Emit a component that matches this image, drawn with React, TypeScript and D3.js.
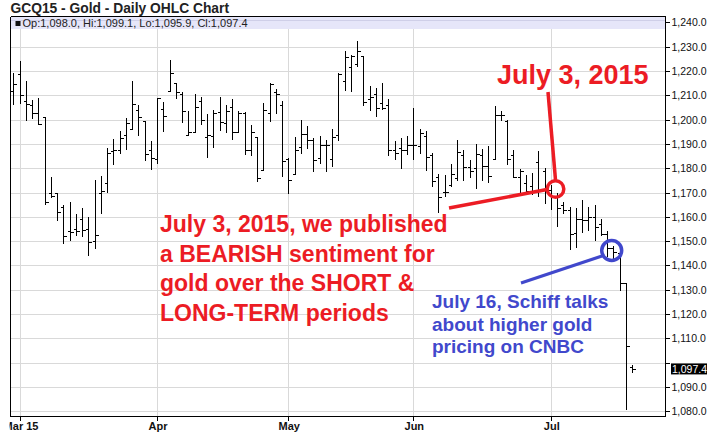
import React, { useEffect } from "react";
import * as d3 from "d3";

const dates = [
  "2015-02-27",
  "2015-03-02","2015-03-03","2015-03-04","2015-03-05","2015-03-06","2015-03-09","2015-03-10","2015-03-11","2015-03-12","2015-03-13",
  "2015-03-16","2015-03-17","2015-03-18","2015-03-19","2015-03-20","2015-03-23","2015-03-24","2015-03-25","2015-03-26","2015-03-27",
  "2015-03-30","2015-03-31",
  "2015-04-01","2015-04-02","2015-04-06","2015-04-07","2015-04-08","2015-04-09","2015-04-10","2015-04-13","2015-04-14","2015-04-15",
  "2015-04-16","2015-04-17","2015-04-20","2015-04-21","2015-04-22","2015-04-23","2015-04-24","2015-04-27","2015-04-28","2015-04-29","2015-04-30",
  "2015-05-01","2015-05-04","2015-05-05","2015-05-06","2015-05-07","2015-05-08","2015-05-11","2015-05-12","2015-05-13","2015-05-14",
  "2015-05-15","2015-05-18","2015-05-19","2015-05-20","2015-05-21","2015-05-22","2015-05-26","2015-05-27","2015-05-28","2015-05-29",
  "2015-06-01","2015-06-02","2015-06-03","2015-06-04","2015-06-05","2015-06-08","2015-06-09","2015-06-10","2015-06-11","2015-06-12",
  "2015-06-15","2015-06-16","2015-06-17","2015-06-18","2015-06-19","2015-06-22","2015-06-23","2015-06-24","2015-06-25","2015-06-26",
  "2015-06-29","2015-06-30",
  "2015-07-01","2015-07-02","2015-07-06","2015-07-07","2015-07-08","2015-07-09","2015-07-10","2015-07-13","2015-07-14","2015-07-15",
  "2015-07-16","2015-07-17","2015-07-20","2015-07-21",
];

const opens = [
  1211.8,
  1218.6,1207.7,1206.0,1202.7,1201.0,1169.7,1169.7,1164.1,1154.1,1154.9,
  1159.0,1154.9,1150.1,1169.7,1173.8,1187.1,1187.6,1193.7,1196.2,1204.0,
  1199.6,1187.5,
  1183.7,1204.4,1211.8,1215.2,1210.4,1193.7,1195.1,1207.7,1193.0,1193.4,
  1203.0,1198.8,1205.2,1194.7,1202.9,1187.5,1193.0,1179.3,1202.6,1211.5,1206.0,
  1183.7,1177.5,1188.9,1194.1,1191.6,1184.1,1189.6,1183.7,1193.7,1216.0,
  1221.8,1222.9,1226.3,1208.4,1210.4,1206.7,1206.0,1187.3,1188.2,1187.5,
  1189.6,1189.2,1193.3,1185.5,1176.3,1170.1,1173.2,1175.8,1185.6,1180.4,
  1179.9,1185.3,1180.8,1183.8,1201.8,1199.6,1185.6,1176.5,1174.0,1172.6,
  1182.5,1178.8,
  1171.0,1168.0,1165.0,1163.0,1153.5,1159.0,1158.8,1160.0,1157.0,1153.0,
  1147.0,1145.0,1132.6,1098.0,
];

const highs = [
  1219.2,
  1224.1,1215.9,1208.1,1208.8,1201.0,1176.2,1170.0,1164.9,1165.9,1161.1,
  1163.8,1160.1,1175.2,1176.8,1188.2,1191.9,1195.2,1200.8,1216.0,1206.0,
  1199.6,1191.0,
  1209.0,1207.4,1224.5,1215.2,1211.5,1203.6,1210.7,1209.5,1202.2,1204.0,
  1209.5,1206.0,1208.5,1203.7,1203.3,1197.8,1193.0,1207.0,1214.9,1212.5,1207.7,
  1184.1,1193.0,1199.9,1197.5,1192.3,1193.4,1191.6,1196.2,1219.0,1228.4,
  1226.6,1232.5,1226.3,1213.8,1213.2,1215.2,1208.5,1191.0,1192.6,1193.3,
  1204.7,1196.2,1195.3,1186.4,1177.5,1177.0,1181.8,1191.8,1187.3,1183.2,
  1190.1,1188.1,1189.0,1205.5,1203.7,1200.0,1187.3,1179.5,1177.4,1178.1,
  1187.0,1179.9,
  1173.0,1170.0,1166.0,1164.0,1163.8,1167.0,1164.0,1165.0,1159.0,1154.0,
  1148.0,1147.0,1132.6,1099.1,
];

const lows = [
  1205.9,
  1206.6,1199.5,1200.4,1197.8,1164.8,1167.9,1158.1,1148.8,1149.9,1152.1,
  1151.5,1143.7,1146.7,1161.1,1169.6,1181.4,1185.9,1187.4,1196.2,1193.2,
  1183.0,1179.3,
  1181.6,1195.1,1211.8,1208.5,1198.5,1193.7,1195.1,1197.8,1184.1,1188.5,
  1195.5,1194.4,1191.6,1194.7,1185.5,1185.1,1174.5,1178.9,1199.2,1202.2,1176.3,
  1169.3,1177.5,1185.8,1187.9,1178.4,1181.6,1178.6,1180.3,1191.2,1211.8,
  1211.5,1221.8,1205.6,1203.7,1201.2,1204.0,1185.1,1183.4,1179.7,1185.5,
  1183.4,1185.8,1178.9,1172.1,1161.5,1168.2,1172.1,1174.7,1174.9,1175.8,
  1171.5,1174.7,1174.0,1183.8,1199.6,1181.5,1176.0,1169.2,1169.8,1168.9,
  1168.1,1165.1,
  1163.0,1156.0,1161.0,1146.4,1147.0,1153.3,1154.0,1150.0,1152.0,1143.5,
  1142.3,1129.5,1080.3,1095.9,
];

const closes = [
  1214.5,
  1210.1,1206.6,1202.7,1198.1,1165.9,1168.5,1161.9,1152.2,1153.6,1154.2,
  1154.5,1149.7,1152.7,1170.7,1186.2,1187.5,1192.6,1198.8,1206.3,1201.1,
  1185.9,1184.1,
  1208.8,1201.5,1219.3,1211.5,1203.6,1195.1,1205.3,1199.7,1193.7,1202.6,
  1199.2,1203.7,1195.1,1202.6,1187.5,1195.1,1175.9,1204.0,1214.7,1210.4,1183.0,
  1175.2,1187.5,1194.1,1191.4,1183.2,1189.6,1189.6,1193.0,1218.8,1225.9,
  1226.3,1228.2,1207.4,1209.2,1204.7,1204.7,1187.5,1186.2,1187.5,1189.6,
  1189.6,1194.4,1184.8,1174.8,1168.1,1170.4,1177.5,1186.6,1180.4,1178.8,
  1186.0,1180.8,1176.7,1201.8,1201.8,1183.6,1176.3,1179.0,1170.5,1170.5,
  1170.5,1171.5,
  1168.0,1163.8,1163.0,1152.9,1159.0,1158.8,1160.0,1156.0,1153.0,1147.0,
  1145.5,1132.6,1107.0,1097.4,
];

const yTicks = [1080, 1090, 1100, 1110, 1120, 1130, 1140, 1150, 1160, 1170, 1180, 1190, 1200, 1210, 1220, 1230, 1240];
const monthTicks = ["2015-03-02", "2015-04-01", "2015-05-01", "2015-06-01", "2015-07-01"];
const monthLabels = ["Mar 15", "Apr", "May", "Jun", "Jul"];

const title = "GCQ15 - Gold - Daily OHLC Chart";
const legendText = "Op:1,098.0, Hi:1,099.1, Lo:1,095.9, Cl:1,097.4";
const lastPrice = 1097.4;
const redNoteTitle = "July 3, 2015";
const redNoteLines = ["July 3, 2015, we published", "a BEARISH sentiment for", "gold over the SHORT &", "LONG-TERM periods"];
const blueNoteLines = ["July 16, Schiff talks", "about higher gold", "pricing on CNBC"];

const W = 717, H = 436;
const plotL = 10.5, plotR = 665.5, plotT = 16.5, plotB = 416.5;

export default function App() {
  useEffect(() => {
    document.body.style.margin = "0";
  }, []);

  const x = d3.scalePoint<string>().domain(dates).range([13.3, 632.05]);
  const y = d3.scaleLinear().domain([1080, 1240]).range([411.2, 22.4]);
  const fmt = d3.format(",.1f");
  const red = "#ec1c24";
  const blue = "#4148cc";
  const font = "'Liberation Sans', Arial, sans-serif";

  const bars = dates.map((d, i) => ({ d, o: opens[i], h: highs[i], l: lows[i], c: closes[i] }));
  // the price box hides the axis label it would collide with
  const shownLabels = yTicks.filter((t) => Math.abs(y(t) - y(lastPrice)) > 9);

  return (
    <svg width={W} height={H} style={{ position: "absolute", left: 0, top: 0, background: "#fff" }} fontFamily={font}>
      <rect x={0} y={0} width={W} height={H} fill="#fff" />
      <text x={10.5} y={12.5} fontSize={13.8} fontWeight="bold" fill="#222">{title}</text>
      <defs>
        <clipPath id="plotclip">
          <rect x={plotL} y={plotT} width={plotR - plotL} height={plotB - plotT} />
        </clipPath>
        <clipPath id="axisclip">
          <rect x={9.5} y={plotB} width={plotR - 9.5} height={20} />
        </clipPath>
      </defs>
      {/* grid */}
      <g stroke="#d9d9d9" strokeWidth={1}>
        {yTicks.map((t) => (
          <line key={t} x1={plotL} x2={plotR} y1={Math.round(y(t)) + 0.5} y2={Math.round(y(t)) + 0.5} />
        ))}
        {monthTicks.map((m) => (
          <line key={m} x1={Math.round(x(m)!) + 0.5} x2={Math.round(x(m)!) + 0.5} y1={plotT} y2={plotB} />
        ))}
      </g>
      {/* legend band */}
      <rect x={plotL + 0.5} y={plotT + 0.5} width={plotR - plotL - 1} height={12} fill="#e6e6f9" />
      <line x1={plotL} x2={plotR} y1={Math.round(y(1240)) - 1.5} y2={Math.round(y(1240)) - 1.5} stroke="#cfcfe8" />
      <rect x={15.5} y={21} width={5} height={5} fill="#111" />
      <text x={22.5} y={26.5} fontSize={11} fill="#222">{legendText}</text>
      {/* bars */}
      <g stroke="#000" strokeWidth={1.1} clipPath="url(#plotclip)" shapeRendering="crispEdges">
        {bars.map((b) => {
          const cx = Math.round(x(b.d)!) + 0.5;
          return (
            <g key={b.d}>
              <line x1={cx} x2={cx} y1={y(b.h)} y2={y(b.l)} />
              <line x1={cx - 3} x2={cx} y1={Math.round(y(b.o)) + 0.5} y2={Math.round(y(b.o)) + 0.5} />
              <line x1={cx} x2={cx + 3} y1={Math.round(y(b.c)) + 0.5} y2={Math.round(y(b.c)) + 0.5} />
            </g>
          );
        })}
      </g>
      {/* frame / axes */}
      <g stroke="#000" strokeWidth={1} fill="none" shapeRendering="crispEdges">
        <line x1={plotL} x2={plotR} y1={plotT} y2={plotT} />
        <line x1={plotL} x2={plotL} y1={plotT} y2={plotB} />
        <line x1={plotL} x2={plotR} y1={plotB} y2={plotB} />
        <line x1={plotR} x2={plotR} y1={plotT} y2={plotB} />
        {yTicks.map((t) => (
          <line key={t} x1={plotR} x2={plotR + 4} y1={Math.round(y(t)) + 0.5} y2={Math.round(y(t)) + 0.5} />
        ))}
        {monthTicks.map((m) => (
          <line key={m} x1={Math.round(x(m)!) + 0.5} x2={Math.round(x(m)!) + 0.5} y1={plotB} y2={plotB + 4} />
        ))}
      </g>
      <g fontSize={10.5} fill="#111">
        {shownLabels.map((t) => (
          <text key={t} x={671.5} y={y(t) + 4}>{fmt(t)}</text>
        ))}
      </g>
      <rect x={671} y={y(lastPrice) - 5.5} width={36} height={11} fill="#000" />
      <text x={672} y={y(lastPrice) + 4} fontSize={10.5} fill="#fff">{fmt(lastPrice)}</text>
      <g fontSize={11} fontWeight="bold" fill="#111" clipPath="url(#axisclip)" textAnchor="middle">
        {monthTicks.map((m, i) => (
          <text key={m} x={x(m)! + (i === 0 ? 1.5 : 1)} y={429.5}>{monthLabels[i]}</text>
        ))}
      </g>
      {/* red annotation */}
      <text x={497} y={84} fontSize={27} fontWeight="bold" fill={red}>{redNoteTitle}</text>
      <g fontSize={23} fontWeight="bold" fill={red}>
        {redNoteLines.map((s, i) => (
          <text key={i} x={160} y={232 + i * 29.5}>{s}</text>
        ))}
      </g>
      <line x1={548} y1={92} x2={555.5} y2={180} stroke={red} strokeWidth={3.5} />
      <line x1={449} y1={208} x2={547} y2={189.5} stroke={red} strokeWidth={3.5} />
      <circle cx={555.5} cy={189} r={8.3} fill="none" stroke={red} strokeWidth={3.5} />
      {/* blue annotation */}
      <line x1={521} y1={283} x2={602} y2={256} stroke={blue} strokeWidth={3} />
      <circle cx={611.7} cy={250.5} r={10} fill="none" stroke={blue} strokeWidth={3.5} />
      <g fontSize={19} fontWeight="bold" fill={blue}>
        {blueNoteLines.map((s, i) => (
          <text key={i} x={432} y={308 + i * 22.5}>{s}</text>
        ))}
      </g>
    </svg>
  );
}
